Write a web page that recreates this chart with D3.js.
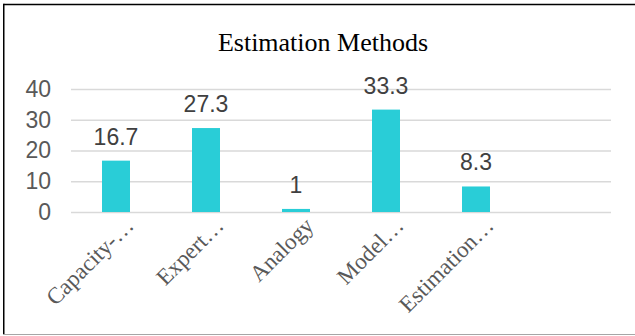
<!DOCTYPE html>
<html>
<head>
<meta charset="utf-8">
<script src="https://cdn.jsdelivr.net/npm/d3@7"></script>
<style>
  html, body { margin: 0; padding: 0; background: #fff; }
  svg { display: block; }
</style>
</head>
<body>
<div id="chart"></div>
<script>
// Share of each estimation method (percent); the last slot is an empty category
const categories = ["Capacity-…", "Expert…", "Analogy", "Model…", "Estimation…", ""];
const values = [16.7, 27.3, 1, 33.3, 8.3, null];
const yTicks = [0, 10, 20, 30, 40];
const title = "Estimation Methods";

const W = 635, H = 336;
const plot = { left: 71, right: 611, top: 89, bottom: 212 };

const svg = d3.select("#chart").append("svg")
  .attr("width", W).attr("height", H);

// frame
svg.append("rect").attr("x", 0).attr("y", 0).attr("width", W).attr("height", H).attr("fill", "#fff");
svg.append("line").attr("x1", 3.5).attr("x2", W).attr("y1", 4.5).attr("y2", 4.5)
  .attr("stroke", "#000").attr("stroke-width", 1.5);
svg.append("line").attr("x1", 3.75).attr("x2", 3.75).attr("y1", 3.75).attr("y2", 335)
  .attr("stroke", "#000").attr("stroke-width", 1.5);
svg.append("line").attr("x1", 3).attr("x2", W).attr("y1", 334.5).attr("y2", 334.5)
  .attr("stroke", "#a6a6a6").attr("stroke-width", 1);

const x = d3.scaleBand()
  .domain(categories.map((c, i) => i))
  .range([plot.left, plot.right])
  .paddingInner(0.689)
  .paddingOuter(0.3445);

const y = d3.scaleLinear().domain([0, 40]).range([plot.bottom, plot.top]);

// title
svg.append("text")
  .attr("x", 323).attr("y", 51)
  .attr("text-anchor", "middle")
  .attr("font-family", "'Liberation Serif', 'Times New Roman', serif")
  .attr("font-size", 26)
  .attr("fill", "#000")
  .text(title);

// gridlines + y labels
const yAxis = d3.axisLeft(y).tickValues(yTicks)
  .tickSize(-(plot.right - plot.left)).tickPadding(20);
const gy = svg.append("g").attr("transform", `translate(${plot.left},0)`).call(yAxis);
gy.select(".domain").remove();
gy.selectAll(".tick line").attr("stroke", "#d9d9d9").attr("stroke-width", 1.5);
gy.selectAll(".tick text")
  .attr("font-family", "'Liberation Sans', Arial, sans-serif")
  .attr("font-size", 23)
  .attr("fill", "#595959");

// bars
const data = categories.map((c, i) => ({ i, c, v: values[i] })).filter(d => d.v != null);
svg.append("g").selectAll("rect").data(data).join("rect")
  .attr("x", d => x(d.i))
  .attr("width", x.bandwidth())
  .attr("y", d => y(d.v))
  .attr("height", d => y(0) - y(d.v))
  .attr("fill", "#29cdd7");

// value labels
svg.append("g").selectAll("text").data(data).join("text")
  .attr("x", d => x(d.i) + x.bandwidth() / 2)
  .attr("y", d => y(d.v) - 16)
  .attr("text-anchor", "middle")
  .attr("font-family", "'Liberation Sans', Arial, sans-serif")
  .attr("font-size", 23)
  .attr("fill", "#404040")
  .text(d => d.v);

// category labels, rotated
const xAxis = d3.axisBottom(x).tickSize(0).tickFormat(i => categories[i]);
const gx = svg.append("g").attr("transform", `translate(0,${plot.bottom})`).call(xAxis);
gx.select(".domain").remove();
gx.selectAll(".tick text")
  .attr("font-family", "'Liberation Serif', 'Times New Roman', serif")
  .attr("font-size", 23)
  .attr("fill", "#595959")
  .attr("text-anchor", "end")
  .attr("dy", null)
  .attr("y", 0)
  .attr("transform", "translate(19,15) rotate(-45)");
</script>
</body>
</html>
